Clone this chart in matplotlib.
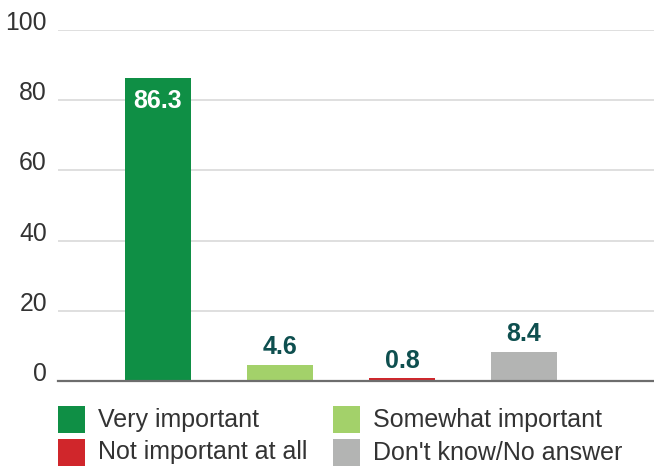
import matplotlib
matplotlib.use("Agg")
import matplotlib.pyplot as plt
from matplotlib.patches import Rectangle

categories = ["Very important", "Somewhat important", "Not important at all", "Don't know/No answer"]
values = [86.3, 4.6, 0.8, 8.4]
colors = ["#0f8f45", "#a3d16a", "#d0262b", "#b3b4b3"]
yticks = [0, 20, 40, 60, 80, 100]

plt.rcParams['font.family'] = ['Liberation Sans', 'DejaVu Sans']

W, H = 654, 468
fig = plt.figure(figsize=(W/100, H/100), dpi=100)
ax = fig.add_axes([58/W, (H-381)/H, 1 - 58/W, (381-30)/H])

x = list(range(len(values)))
ax.bar(x, values, width=0.54, color=colors, zorder=3)
ax.set_xlim(-100/122, (654-158)/122)
ax.set_ylim(0, 100)
ax.set_yticks(yticks)
ax.set_yticklabels([str(t) for t in yticks], fontsize=17.8, color="#333333")
for lbl in ax.get_yticklabels():
    lbl.set_verticalalignment("baseline")
ax.tick_params(axis='y', length=0, pad=8)
ax.set_xticks([])
for s in ["top", "right", "left"]:
    ax.spines[s].set_visible(False)
ax.spines["bottom"].set_color("#6d6d6d")
ax.spines["bottom"].set_linewidth(1.6)
ax.spines["bottom"].set_zorder(4)
ax.grid(axis='y', color="#d9d9d9", linewidth=1.2, zorder=0)

label_color = "#0e4f4f"
for i, v in enumerate(values):
    if v > 50:
        ax.annotate(f"{v}", (i, v), xytext=(0, -8), textcoords="offset points",
                    ha="center", va="top", fontsize=18, fontweight="bold", color="white", zorder=5)
    else:
        ax.annotate(f"{v}", (i, v), xytext=(0, 4), textcoords="offset points",
                    ha="center", va="bottom", fontsize=18, fontweight="bold", color=label_color, zorder=5)

# legend (two columns, two rows)
leg_pos = [(58, 406), (333, 406), (58, 439), (333, 439)]
for (px, py), name, col in zip(leg_pos, categories, colors):
    fig.patches.append(Rectangle((px/W, 1 - (py+27)/H), 27/W, 27/H, transform=fig.transFigure,
                                 facecolor=col, edgecolor='none'))
    fig.text((px+40)/W, 1 - (py+13.5)/H, name, fontsize=18, color="#333333", va="center", ha="left")

fig.savefig("out.png", dpi=100)
